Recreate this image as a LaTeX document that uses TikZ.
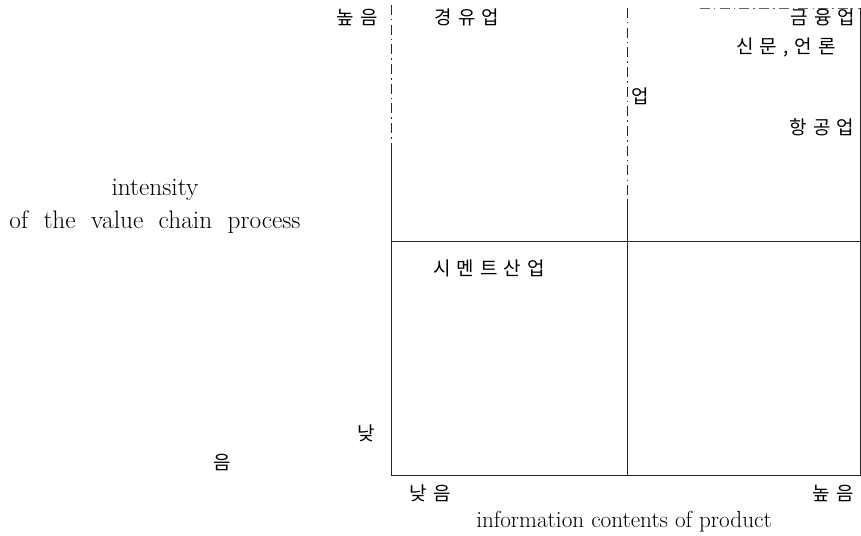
\documentclass[tikz,border=0pt]{standalone}
\usepackage{fontspec}
\newfontfamily\kr[LetterSpace=32]{Noto Sans CJK KR}
\newcommand\wideeng{\fontsize{18}{21}\selectfont\spaceskip=11pt plus 2pt\relax}

\begin{document}
\begin{tikzpicture}[x=0.025cm,y=-0.025cm,
    kor/.style={inner sep=0pt,font=\kr\fontsize{13.5}{15}\selectfont},
    eng/.style={inner sep=0pt,font=\fontsize{16.5}{19}\selectfont},
    engwide/.style={inner sep=0pt,font=\wideeng},
    frame/.style={line width=0.6pt,black!85},
    broken/.style={line width=0.6pt,black!85,dash pattern=on 7pt off 3pt on 1pt off 3pt}]
    \useasboundingbox (0,0) rectangle (861,536);
    % grid corners
    \coordinate (tl) at (391,5);
    \coordinate (ls) at (391,150);
    \coordinate (bl) at (391,475);
    \coordinate (tm) at (627,8);
    \coordinate (ms) at (627,200);
    \coordinate (bm) at (627,475);
    \coordinate (tr) at (860,8);
    \coordinate (tt) at (700,8);
    \coordinate (br) at (860,475);
    \coordinate (ml) at (391,241);
    \coordinate (mr) at (860,241);
    \draw[broken] (tl) -- (ls);
    \draw[frame] (ls) -- (bl) -- (br) -- (tr);
    \draw[broken] (tm) -- (ms);
    \draw[frame] (ms) -- (bm);
    \draw[broken,black!60] (tt) -- (tr);
    \draw[frame] (ml) -- (mr);
    % cells
    \node[kor] (hi) at (357,17) {높음};
    \node[kor] (oil) at (467,17) {경유업};
    \node[kor] (fin) at (823,17) {금융업};
    \node[kor] (news) at (786,47) {신문,언론};
    \node[kor] (up) at (640,96) {업};
    \node[kor] (air) at (822,127) {항공업};
    \node[kor] (cem) at (489,268) {시멘트산업};
    % axis labels
    \node[engwide] (int1) at (155,190) {intensity};
    \node[engwide] (int2) at (155,222) {of the value chain process};
    \node[kor] (lo1) at (366,433) {낮};
    \node[kor] (lo2) at (222,462) {음};
    \node[kor] (xlo) at (430,493) {낮음};
    \node[kor] (xhi) at (833,493) {높음};
    \node[eng] (info) at (624,522) {information contents of product};
\end{tikzpicture}
\end{document}
